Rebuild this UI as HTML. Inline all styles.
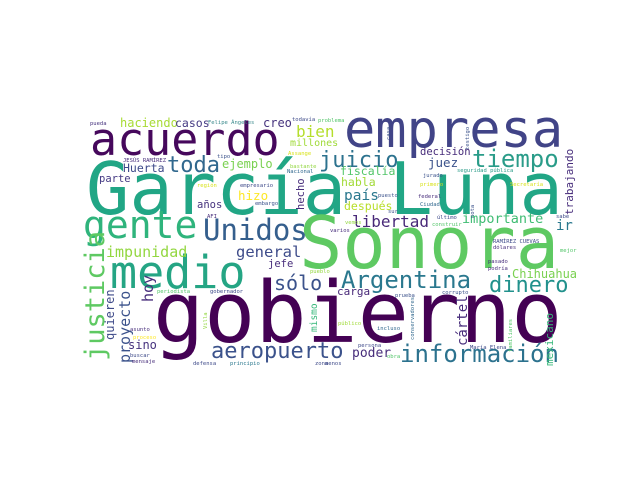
<!DOCTYPE html>
<html><head><meta charset="utf-8"><style>
html,body{margin:0;padding:0;background:#fff;width:640px;height:480px;overflow:hidden}
svg text{font-family:"DejaVu Sans Mono","Liberation Mono",monospace;}
</style></head><body>
<svg width="640" height="480" xmlns="http://www.w3.org/2000/svg">
<rect x="0" y="0" width="640" height="480" fill="#fff"/>
<g>
<text x="153" y="342" font-size="85" fill="#440154">gobierno</text>
<text x="86" y="214" font-size="72" fill="#21a685">García Luna</text>
<text x="299" y="268" font-size="72" fill="#5ec962">Sonora</text>
<text x="344" y="147" font-size="52" fill="#414487">empresa</text>
<text x="90" y="155" font-size="45" fill="#46085c">acuerdo</text>
<text x="110" y="288" font-size="45" fill="#25a584">medio</text>
<text x="83" y="238" font-size="38" fill="#2fb47c">gente</text>
<text x="203" y="240" font-size="29" fill="#355f8d">Unidos</text>
<text x="341" y="288" font-size="24" fill="#2a788e">Argentina</text>
<text x="489" y="292" font-size="22" fill="#21918c">dinero</text>
<text x="400" y="362" font-size="24" fill="#2c728e">información</text>
<text x="211" y="358" font-size="22" fill="#3b528b">aeropuerto</text>
<text x="274" y="290" font-size="20" fill="#3b528b">sólo</text>
<text x="319" y="167" font-size="22" fill="#2c728e">juicio</text>
<text x="472" y="167" font-size="24" fill="#2a9c89">tiempo</text>
<text x="167" y="172" font-size="22" fill="#31688e">toda</text>
<text x="296" y="137" font-size="16" fill="#b5de2b">bien</text>
<text x="290" y="146" font-size="10" fill="#a0da39">millones</text>
<text transform="translate(573,215) rotate(-90)" font-size="11" fill="#472d7b">trabajando</text>
<text x="120" y="127" font-size="12" fill="#a8db34">haciendo</text>
<text x="175" y="127" font-size="11.5" fill="#443a83">casos</text>
<text x="263" y="127" font-size="12" fill="#46337e">creo</text>
<text x="123" y="172" font-size="11.5" fill="#3e4a89">Huerta</text>
<text x="222" y="168" font-size="12" fill="#7ad151">ejemplo</text>
<text x="99" y="182" font-size="10.5" fill="#443983">parte</text>
<text x="238" y="200" font-size="12.5" fill="#fde725">hizo</text>
<text x="197" y="208" font-size="10.5" fill="#46337e">años</text>
<text transform="translate(304,210) rotate(-90)" font-size="10.5" fill="#472d7b">hecho</text>
<text x="420" y="155" font-size="10.5" fill="#472c7a">decisión</text>
<text x="428" y="167" font-size="12.5" fill="#3b528b">juez</text>
<text x="340" y="175" font-size="11.5" fill="#52c569">fiscalía</text>
<text x="341" y="186" font-size="11.5" fill="#a2da37">habla</text>
<text x="344" y="200" font-size="14.5" fill="#2a788e">país</text>
<text x="344" y="210" font-size="11.5" fill="#b8de29">después</text>
<text x="352" y="227" font-size="16" fill="#482878">libertad</text>
<text x="462" y="223" font-size="13.5" fill="#3fbc73">importante</text>
<text x="556" y="230" font-size="14" fill="#2a788e">ir</text>
<text x="106" y="257" font-size="15" fill="#93d741">impunidad</text>
<text x="236" y="257" font-size="15.5" fill="#3e4c8a">general</text>
<text x="268" y="267" font-size="10.5" fill="#472d7b">jefe</text>
<text transform="translate(104,361) rotate(-90)" font-size="27" fill="#5ec962">justicia</text>
<text transform="translate(130,363) rotate(-90)" font-size="15" fill="#3b528b">proyecto</text>
<text transform="translate(114,340) rotate(-90)" font-size="12" fill="#3e4a89">quieren</text>
<text transform="translate(153,302) rotate(-90)" font-size="15" fill="#472d7b">hoy</text>
<text x="128" y="349" font-size="12" fill="#46327e">sino</text>
<text transform="translate(317,332) rotate(-90)" font-size="9.5" fill="#35b779">mismo</text>
<text x="512" y="278" font-size="12" fill="#7ad151">Chihuahua</text>
<text x="337" y="295" font-size="11" fill="#482878">carga</text>
<text transform="translate(467,346) rotate(-90)" font-size="14" fill="#472d7b">cártel</text>
<text x="352" y="357" font-size="13" fill="#472d7b">poder</text>
<text transform="translate(553,366) rotate(-90)" font-size="11" fill="#35b779">mexicano</text>
<g font-size="5.5">
<text x="90" y="125" fill="#46337e">pueda</text>
<text x="208" y="124" fill="#3b8a8c">Felipe Ángeles</text>
<text x="292" y="121" fill="#3e4a89">todavía</text>
<text x="123" y="162" fill="#472d7b">JESÚS RAMÍREZ</text>
<text x="217" y="158" fill="#3b528b">tipo</text>
<text x="288" y="155" fill="#d8e219">Assange</text>
<text x="290" y="168" fill="#93d741">bastante</text>
<text x="287" y="173" fill="#31688e">Nacional</text>
<text x="197" y="187" fill="#d8e219">región</text>
<text x="240" y="187" fill="#3e4a89">empresario</text>
<text x="255" y="205" fill="#3b528b">embargo</text>
<text x="207" y="218" fill="#472d7b">AFI</text>
<text x="318" y="122" fill="#52c569">problema</text>
<text x="457" y="172" fill="#2a9c89">seguridad pública</text>
<text x="423" y="177" fill="#3b528b">jurado</text>
<text x="420" y="186" fill="#d8e219">primero</text>
<text x="510" y="186" fill="#d8e219">Secretaría</text>
<text x="378" y="197" fill="#3b528b">puesto</text>
<text x="418" y="198" fill="#472d7b">federal</text>
<text x="420" y="206" fill="#31688e">Ciudad</text>
<text x="388" y="213" fill="#3b528b">sur</text>
<text x="437" y="219" fill="#3e4a89">último</text>
<text x="345" y="224" fill="#93d741">vemos</text>
<text x="432" y="226" fill="#52c569">construir</text>
<text x="330" y="232" fill="#472d7b">varios</text>
<text x="556" y="218" fill="#3e4a89">sabe</text>
<text x="560" y="252" fill="#52c569">mejor</text>
<text x="157" y="293" fill="#52c569">periodista</text>
<text x="210" y="293" fill="#3e4a89">gobernador</text>
<text x="310" y="273" fill="#93d741">pueblo</text>
<text x="130" y="331" fill="#472d7b">asunto</text>
<text x="133" y="339" fill="#fde725">proceso</text>
<text x="130" y="357" fill="#3e4a89">buscar</text>
<text x="132" y="363" fill="#472d7b">mensaje</text>
<text x="193" y="365" fill="#3e4a89">defensa</text>
<text x="230" y="365" fill="#2a788e">principio</text>
<text x="315" y="365" fill="#3e4a89">zona</text>
<text x="493" y="243" fill="#3e4a89">RAMÍREZ CUEVAS</text>
<text x="493" y="249" fill="#472d7b">dólares</text>
<text x="488" y="263" fill="#472d7b">pasado</text>
<text x="488" y="270" fill="#472d7b">podría</text>
<text x="395" y="297" fill="#3b528b">prueba</text>
<text x="442" y="294" fill="#3b528b">corrupto</text>
<text x="338" y="325" fill="#a0da39">público</text>
<text x="377" y="330" fill="#31688e">incluso</text>
<text x="358" y="347" fill="#3e4a89">persona</text>
<text x="470" y="349" fill="#3e4a89">María Elena</text>
<text x="387" y="358" fill="#52c569">obra</text>
<text x="325" y="365" fill="#3e4a89">menos</text>
<text transform="translate(469,150) rotate(-90)" fill="#3b528b">testigo</text>
<text transform="translate(390,140) rotate(-90)" fill="#3b528b">casa</text>
<text transform="translate(474,218) rotate(-90)" fill="#3b528b">nota</text>
<text transform="translate(207,329) rotate(-90)" fill="#93d741">Villa</text>
<text transform="translate(414,340) rotate(-90)" fill="#31688e">conservadores</text>
<text transform="translate(512,352) rotate(-90)" fill="#52c569">familiares</text>
</g>
</g>
</svg>
</body></html>
